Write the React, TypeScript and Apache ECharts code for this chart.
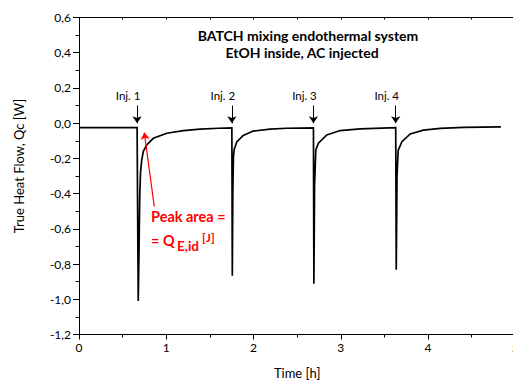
import React, { useEffect, useRef } from 'react';
import * as echarts from 'echarts';

// Time [h] and true heat flow [W]
const timeH = [
  0.0, 0.666, 0.672, 0.679, 0.688, 0.696, 0.705, 0.719, 0.737, 0.776, 0.852, 1.006, 1.196, 1.388, 1.6,
  1.752, 1.757, 1.763, 1.77, 1.778, 1.808, 1.882, 1.997, 2.19, 2.38,
  2.687, 2.692, 2.7, 2.714, 2.744, 2.84, 2.993, 3.222,
  3.63, 3.636, 3.645, 3.658, 3.701, 3.796, 3.948, 4.14, 4.407, 4.836,
];
const heatFlowW = [
  -0.025, -0.025, -0.5, -1.01, -0.72, -0.42, -0.28, -0.21, -0.16, -0.124, -0.086, -0.057, -0.042, -0.034, -0.029,
  -0.027, -0.866, -0.4, -0.19, -0.15, -0.107, -0.07, -0.045, -0.034, -0.029,
  -0.027, -0.912, -0.35, -0.152, -0.114, -0.067, -0.042, -0.032,
  -0.026, -0.832, -0.3, -0.155, -0.105, -0.061, -0.04, -0.03, -0.024, -0.021,
];

const injTimes = [0.666, 1.752, 2.687, 3.63];
const injLabels = ['Inj. 1', 'Inj. 2', 'Inj. 3', 'Inj. 4'];
const injArrowTop = 0.1;
const injArrowTip = 0.0;
const injLabelY = 0.155;

// red "peak area" arrow: from text towards the first peak
const peakArrowFrom = [0.863, -0.474];
const peakArrowTo = [0.748, -0.053];

const titleLines = ['BATCH mixing endothermal system', 'EtOH inside, AC injected'];
const xAxisTitle = 'Time [h]';
const yAxisTitle = 'True Heat Flow, Qc [W]';

const FONT = 'Lato, "Open Sans", "Noto Sans", sans-serif';

export default function App() {
  const ref = useRef<HTMLDivElement>(null);
  useEffect(() => {
    if (!ref.current) return;
    const chart = echarts.init(ref.current, undefined, { renderer: 'svg' });
    const data = timeH.map((t, i) => [t, heatFlowW[i]]);
    const fmtY = (v: number) => (Math.abs(v) < 1e-9 ? '0,0' : v.toFixed(1).replace('.', ','));

    const option: any = {
      animation: false,
      backgroundColor: '#ffffff',
      textStyle: { fontFamily: FONT },
      grid: { left: 79, width: 436.25, top: 17.5, height: 317, containLabel: false, outerBoundsMode: 'none' },
      xAxis: [
        {
          type: 'value',
          min: 0,
          max: 5,
          interval: 1,
          position: 'bottom',
          name: xAxisTitle,
          nameLocation: 'middle',
          nameGap: 32,
          nameTextStyle: { fontSize: 13, color: '#000', fontFamily: FONT },
          axisLine: { show: true, onZero: false, lineStyle: { color: '#000', width: 1 } },
          axisTick: { show: true, length: 5, lineStyle: { color: '#000' } },
          minorTick: { show: true, splitNumber: 2, length: 3, lineStyle: { color: '#000' } },
          axisLabel: { fontSize: 12, color: '#000', margin: 7, fontFamily: FONT, formatter: (v: number) => String(Math.round(v)) },
          splitLine: { show: false },
        },
        {
          type: 'value',
          min: 0,
          max: 5,
          interval: 0.5,
          position: 'top',
          axisLine: { show: true, onZero: false, lineStyle: { color: '#000', width: 1 } },
          axisTick: { show: true, inside: true, length: 2, lineStyle: { color: '#000' } },
          axisLabel: { show: false },
          splitLine: { show: false },
        },
      ],
      yAxis: [
        {
          type: 'value',
          min: -1.2,
          max: 0.6,
          interval: 0.2,
          axisLine: { show: true, onZero: false, lineStyle: { color: '#000', width: 1 } },
          axisTick: { show: true, length: 6, lineStyle: { color: '#000' } },
          minorTick: { show: true, splitNumber: 2, length: 3.5, lineStyle: { color: '#000' } },
          axisLabel: { fontSize: 12, color: '#000', margin: 8, fontFamily: FONT, formatter: fmtY },
          splitLine: { show: false },
        },
      ],
      series: [
        {
          type: 'line',
          data,
          showSymbol: false,
          symbol: 'none',
          lineStyle: { color: '#000', width: 1.7, join: 'miter' },
          clip: false,
          markLine: {
            silent: true,
            symbol: ['none', 'arrow'],
            symbolSize: 7,
            label: { show: false },
            lineStyle: { color: '#000', width: 1, type: 'solid' },
            data: [
              ...injTimes.map((t) => [
                { coord: [t, injArrowTop] },
                { coord: [t, injArrowTip] },
              ]),
              [
                { coord: peakArrowFrom, lineStyle: { color: '#ff0000', width: 1.2 }, itemStyle: { color: '#ff0000' } },
                { coord: peakArrowTo, lineStyle: { color: '#ff0000', width: 1.2 }, itemStyle: { color: '#ff0000' } },
              ],
            ],
          },
          markPoint: {
            silent: true,
            symbol: 'circle',
            symbolSize: 0,
            data: injTimes.map((t, i) => ({
              name: injLabels[i],
              coord: [t, injLabelY],
              label: {
                show: true,
                position: 'inside',
                formatter: injLabels[i],
                offset: [-9, 0],
                fontSize: 11.5,
                color: '#000',
                fontFamily: FONT,
              },
            })),
          },
        },
      ],
      graphic: [
        {
          type: 'text',
          x: 19,
          y: 166,
          rotation: Math.PI / 2,
          style: { text: yAxisTitle, fontSize: 13, fill: '#000', align: 'center', verticalAlign: 'middle', fontFamily: FONT },
        },
        {
          type: 'text',
          x: 308,
          y: 35,
          style: { text: titleLines[0], fontSize: 14, fontWeight: 'bold', fill: '#000', align: 'center', verticalAlign: 'middle', fontFamily: FONT },
        },
        {
          type: 'text',
          x: 302,
          y: 52,
          style: { text: titleLines[1], fontSize: 14, fontWeight: 'bold', fill: '#000', align: 'center', verticalAlign: 'middle', fontFamily: FONT },
        },
        {
          type: 'text',
          x: 151,
          y: 216,
          style: { text: 'Peak area =', fontSize: 14.5, fontWeight: 'bold', fill: '#ff0000', align: 'left', verticalAlign: 'middle', fontFamily: FONT },
        },
        {
          type: 'text',
          x: 151,
          y: 240,
          style: { text: '= Q', fontSize: 14.5, fontWeight: 'bold', fill: '#ff0000', align: 'left', verticalAlign: 'middle', fontFamily: FONT },
        },
        {
          type: 'text',
          x: 177,
          y: 246,
          style: { text: 'E,id', fontSize: 13.5, fontWeight: 'bold', fill: '#ff0000', align: 'left', verticalAlign: 'middle', fontFamily: FONT },
        },
        {
          type: 'text',
          x: 202,
          y: 237,
          style: { text: '[J]', fontSize: 12, fontWeight: 'bold', fill: '#ff0000', align: 'left', verticalAlign: 'middle', fontFamily: FONT },
        },
      ],
    };
    chart.setOption(option);
    return () => chart.dispose();
  }, []);
  return (
    <div
      ref={ref}
      style={{ position: 'fixed', left: 0, top: 0, width: 513, height: 383, background: '#fff' }}
    />
  );
}
